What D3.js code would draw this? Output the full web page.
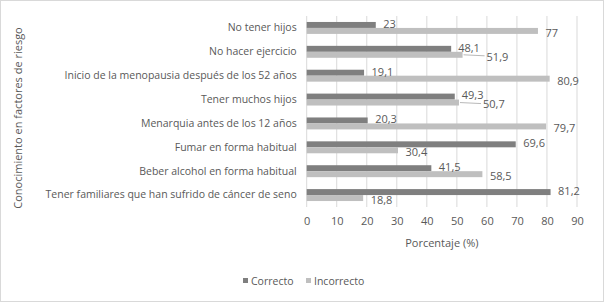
<!DOCTYPE html>
<html>
<head>
<meta charset="utf-8">
<script src="https://cdn.jsdelivr.net/npm/d3@7"></script>
<style>
  body { margin: 0; background: #fff; }
  text { font-family: "Open Sans", sans-serif; fill: #595959; }
</style>
</head>
<body>
<div id="chart"></div>
<script>
// Datos
const categories = [
    "No tener hijos",
    "No hacer ejercicio",
    "Inicio de la menopausia después de los 52 años",
    "Tener muchos hijos",
    "Menarquia antes de los 12 años",
    "Fumar en forma habitual",
    "Beber alcohol en forma habitual",
    "Tener familiares que han sufrido de cáncer de seno"
]
const correcto = [23, 48.1, 19.1, 49.3, 20.3, 69.6, 41.5, 81.2]
const incorrecto = [77, 51.9, 80.9, 50.7, 79.7, 30.4, 58.5, 18.8]
const seriesNames = ["Correcto", "Incorrecto"]
const seriesColors = ["#7f7f7f", "#bfbfbf"]
const xTicks = [0, 10, 20, 30, 40, 50, 60, 70, 80, 90]

const W = 604, H = 302
const margin = {top: 16, right: 27, bottom: 95, left: 306.7}
const width = W - margin.left - margin.right
const height = H - margin.top - margin.bottom

const fmt = v => String(v).replace(".", ",")

const svg = d3.select("#chart").append("svg")
    .attr("width", W)
    .attr("height", H)

// chart border
svg.append("rect")
    .attr("x", 0.5).attr("y", 0.5)
    .attr("width", W - 1).attr("height", H - 1)
    .attr("fill", "#fff")
    .attr("stroke", "#d9d9d9")

const g = svg.append("g")
    .attr("transform", `translate(${margin.left},${margin.top})`)

const x = d3.scaleLinear().domain([0, 90]).range([0, width])
const y = d3.scaleBand().domain(categories).range([0, height]).paddingInner(0.5).paddingOuter(0.25)
const ySub = d3.scaleBand().domain(seriesNames).range([0, y.bandwidth()])

// gridlines
g.selectAll(".grid")
    .data(xTicks)
    .join("line")
    .attr("class", "grid")
    .attr("x1", d => x(d)).attr("x2", d => x(d))
    .attr("y1", 0).attr("y2", height)
    .attr("stroke", "#d9d9d9")
    .attr("stroke-width", 1)

// x axis labels
const xAxis = g.append("g")
    .attr("transform", `translate(0,${height})`)
    .call(d3.axisBottom(x).tickValues(xTicks).tickSize(0).tickPadding(10))
xAxis.select(".domain").remove()
xAxis.selectAll("text")
    .attr("font-size", 11)
    .attr("font-family", "Open Sans")
    .attr("fill", "#595959")

// y axis labels
const yAxis = g.append("g")
    .call(d3.axisLeft(y).tickSize(0).tickPadding(10))
yAxis.select(".domain").remove()
yAxis.selectAll("text")
    .attr("font-size", 10.5)
    .attr("font-family", "Open Sans")
    .attr("fill", "#595959")

const rows = categories.map((c, i) => ({cat: c, vals: [correcto[i], incorrecto[i]]}))

const groups = g.selectAll(".row")
    .data(rows)
    .join("g")
    .attr("class", "row")
    .attr("transform", d => `translate(0,${y(d.cat)})`)

groups.selectAll("rect")
    .data(d => d.vals.map((v, k) => ({v, k})))
    .join("rect")
    .attr("x", 0)
    .attr("y", d => ySub(seriesNames[d.k]))
    .attr("width", d => x(d.v))
    .attr("height", ySub.bandwidth())
    .attr("fill", d => seriesColors[d.k])

// data labels (labels pushed right when the two values are close, with a leader line)
groups.each(function(d) {
    let row = d3.select(this)
    let close = Math.abs(d.vals[0] - d.vals[1]) < 5
    d.vals.forEach((v, k) => {
        let yc = ySub(seriesNames[k]) + ySub.bandwidth() / 2 + (k === 0 ? -1 : 2)
        let lx = x(v) + 7.5
        if (close) {
            lx = k === 0 ? x(v) + 7 : x(Math.max(...d.vals)) + 24
            if (k === 1) {
                row.append("line")
                    .attr("x1", x(v) + 1).attr("y1", ySub(seriesNames[k]) + ySub.bandwidth() / 2)
                    .attr("x2", lx - 2).attr("y2", yc - 1)
                    .attr("stroke", "#a6a6a6")
                    .attr("stroke-width", 0.8)
            }
        }
        row.append("text")
            .attr("x", lx)
            .attr("y", yc)
            .attr("dy", "0.35em")
            .attr("font-size", 11)
            .text(fmt(v))
    })
})

// axis titles
svg.append("text")
    .attr("x", margin.left + width / 2)
    .attr("y", 247)
    .attr("text-anchor", "middle")
    .attr("font-size", 11)
    .text("Porcentaje (%)")

svg.append("text")
    .attr("transform", `translate(22,${118}) rotate(-90)`)
    .attr("text-anchor", "middle")
    .attr("font-size", 11)
    .text("Conocimiento en factores de riesgo")

// legend
const legend = svg.append("g")
    .attr("transform", "translate(243,281)")
const legendX = [0, 63]
seriesNames.forEach((s, k) => {
    legend.append("rect")
        .attr("x", legendX[k]).attr("y", -3)
        .attr("width", 5).attr("height", 5)
        .attr("fill", seriesColors[k])
    legend.append("text")
        .attr("x", legendX[k] + 8)
        .attr("y", 0)
        .attr("dy", "0.35em")
        .attr("font-size", 10.5)
        .text(s)
})
</script>
</body>
</html>
